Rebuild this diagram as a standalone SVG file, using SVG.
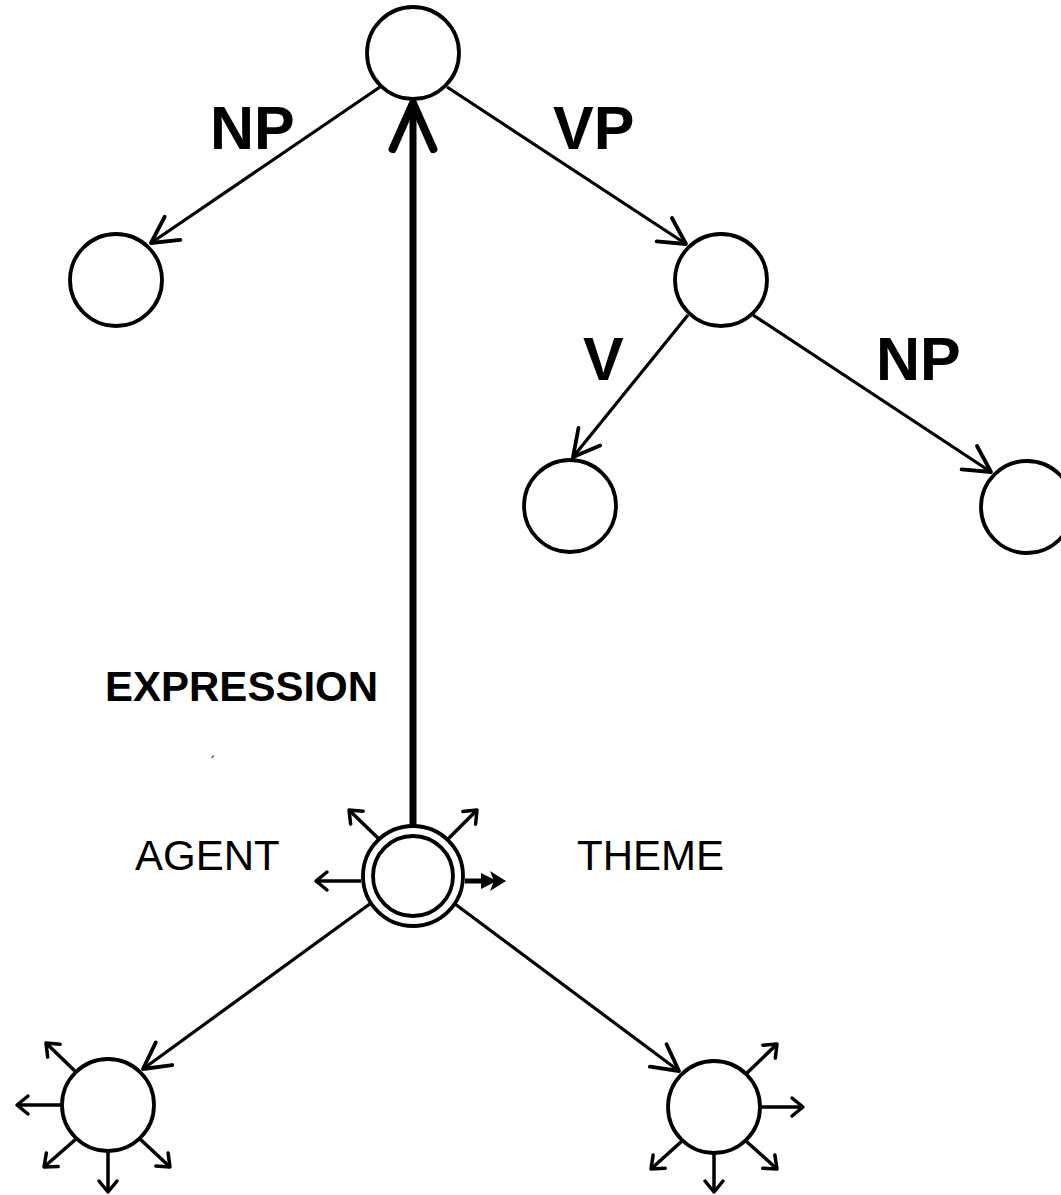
<svg xmlns="http://www.w3.org/2000/svg" width="1061" height="1195" viewBox="0 0 1061 1195">
  <defs>
    <style>
      .node { fill: #fff; stroke: #000; stroke-width: 3.8; }
      .edge { fill: none; stroke: #000; stroke-width: 3.2; }
      .spoke { fill: none; stroke: #000; stroke-width: 3.5; }
      .big { font-family: "Liberation Sans", Arial, sans-serif; font-weight: bold; font-size: 61px; fill: #000; }
      .mid { font-family: "Liberation Sans", Arial, sans-serif; font-weight: bold; font-size: 42px; fill: #000; }
      .role { font-family: "Liberation Sans", Arial, sans-serif; font-size: 42px; fill: #000; }
    </style>
    <marker id="open" markerUnits="userSpaceOnUse" markerWidth="40" markerHeight="40" viewBox="-30 -20 34 40" refX="0" refY="0" orient="auto">
      <path d="M -26 -14 L 0 0 L -26 14" fill="none" stroke="#000" stroke-width="3.8" stroke-linecap="round" stroke-linejoin="round"/>
    </marker>
    <marker id="small" markerUnits="userSpaceOnUse" markerWidth="24" markerHeight="24" viewBox="-14 -12 18 24" refX="0" refY="0" orient="auto">
      <path d="M -11 -9 L 0 0 L -11 9" fill="none" stroke="#000" stroke-width="3.5" stroke-linecap="round" stroke-linejoin="round"/>
    </marker>
    <marker id="heavy" markerUnits="userSpaceOnUse" markerWidth="60" markerHeight="60" viewBox="-50 -26 56 52" refX="0" refY="0" orient="auto">
      <path d="M -43 -19 L 0 0 L -43 19" fill="none" stroke="#000" stroke-width="7.5" stroke-linecap="round" stroke-linejoin="round"/>
    </marker>
  </defs>

  <rect width="1061" height="1195" fill="#fff"/>

  <!-- connectors -->
  <g id="connectors">
    <!-- syntactic tree -->
    <line class="edge" x1="380" y1="87" x2="151" y2="243" marker-end="url(#open)"/>
    <line class="edge" x1="447" y1="87" x2="686" y2="244" marker-end="url(#open)"/>
    <line class="edge" x1="688" y1="315" x2="573" y2="457" marker-end="url(#open)"/>
    <line class="edge" x1="753" y1="315" x2="991" y2="472" marker-end="url(#open)"/>
    <!-- expression link -->
    <line x1="413" y1="826" x2="413" y2="103" stroke="#000" stroke-width="7" marker-end="url(#heavy)"/>
    <!-- role links -->
    <line class="edge" x1="378" y1="898" x2="143" y2="1069" marker-end="url(#open)"/>
    <line class="edge" x1="447" y1="898" x2="679" y2="1071" marker-end="url(#open)"/>

    <!-- spokes around the event node -->
    <line class="spoke" x1="380" y1="840" x2="349" y2="810" marker-end="url(#small)"/>
    <line class="spoke" x1="447" y1="840" x2="477" y2="810" marker-end="url(#small)"/>
    <line class="spoke" x1="361" y1="881" x2="316" y2="881" marker-end="url(#small)"/>
    <g id="double-head">
      <line x1="465" y1="881" x2="488" y2="881" stroke="#000" stroke-width="5"/>
      <polygon points="481,873 497,881 481,889" fill="#000"/>
      <polygon points="490,871 506,881 490,891 494,881" fill="#000"/>
    </g>

    <!-- spokes around the agent node -->
    <line class="spoke" x1="77" y1="1073" x2="46" y2="1043" marker-end="url(#small)"/>
    <line class="spoke" x1="62" y1="1105" x2="17" y2="1105" marker-end="url(#small)"/>
    <line class="spoke" x1="76" y1="1139" x2="44" y2="1167" marker-end="url(#small)"/>
    <line class="spoke" x1="108" y1="1152" x2="108" y2="1192" marker-end="url(#small)"/>
    <line class="spoke" x1="140" y1="1139" x2="170" y2="1167" marker-end="url(#small)"/>

    <!-- spokes around the theme node -->
    <line class="spoke" x1="746" y1="1074" x2="777" y2="1044" marker-end="url(#small)"/>
    <line class="spoke" x1="760" y1="1107" x2="803" y2="1107" marker-end="url(#small)"/>
    <line class="spoke" x1="746" y1="1141" x2="777" y2="1169" marker-end="url(#small)"/>
    <line class="spoke" x1="714" y1="1154" x2="714" y2="1192" marker-end="url(#small)"/>
    <line class="spoke" x1="682" y1="1141" x2="651" y2="1169" marker-end="url(#small)"/>
  </g>

  <!-- nodes -->
  <g id="node-s"><circle class="node" cx="413" cy="53" r="46"/></g>
  <g id="node-np-subj"><circle class="node" cx="116" cy="280" r="46"/></g>
  <g id="node-vp"><circle class="node" cx="721" cy="280" r="46"/></g>
  <g id="node-v"><circle class="node" cx="570" cy="506" r="46"/></g>
  <g id="node-np-obj"><circle class="node" cx="1027" cy="507" r="46"/></g>
  <g id="node-event">
    <circle class="node" cx="413" cy="876" r="50"/>
    <circle class="node" cx="413" cy="876" r="40"/>
  </g>
  <g id="node-agent"><circle class="node" cx="108" cy="1105" r="46"/></g>
  <g id="node-theme"><circle class="node" cx="714" cy="1107" r="46"/></g>

  <!-- labels -->
  <g id="labels">
    <text class="big" x="210" y="149">NP</text>
    <text class="big" x="553" y="149">VP</text>
    <text class="big" x="583" y="380">V</text>
    <text class="big" x="876" y="380">NP</text>
    <text class="mid" x="105" y="701">EXPRESSION</text>
    <text class="role" x="135" y="870" font-size="43">AGENT</text>
    <text class="role" x="577" y="870" font-size="41">THEME</text>
  </g>

  <!-- small mark -->
  <line x1="211.5" y1="758" x2="214" y2="755.5" stroke="#555" stroke-width="1.2"/>
</svg>
